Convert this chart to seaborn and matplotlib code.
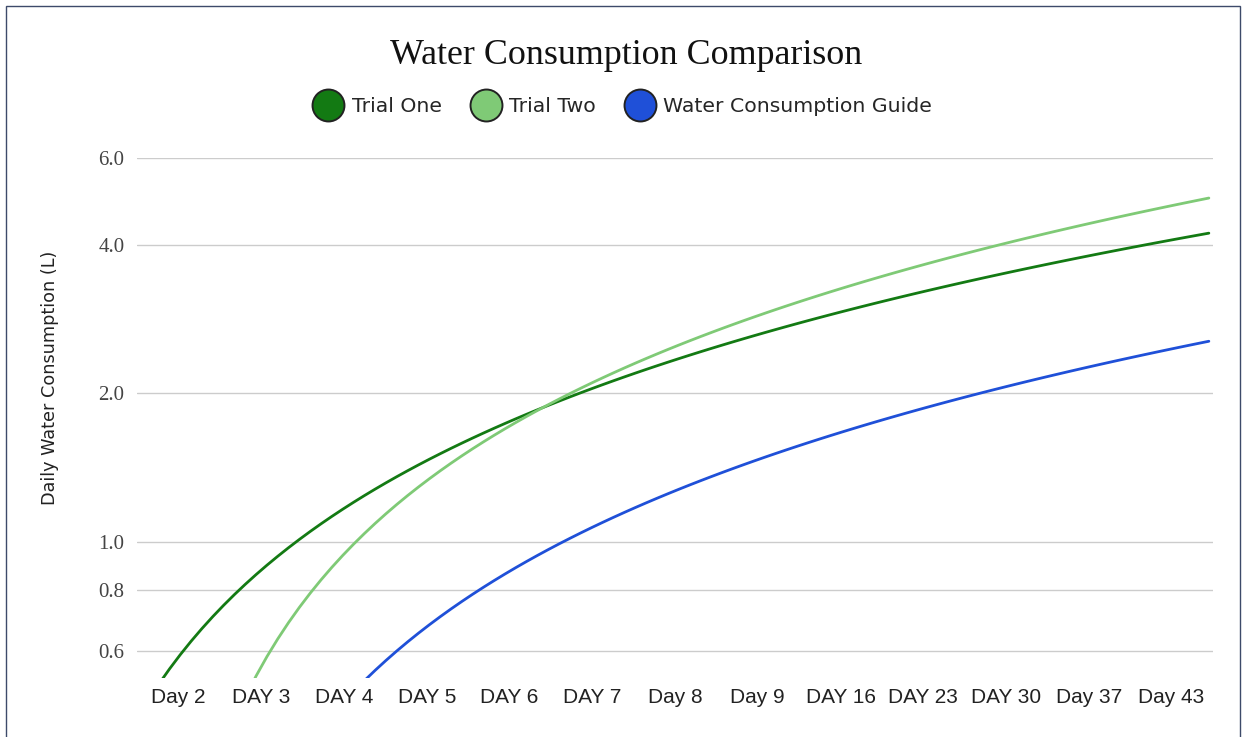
import numpy as np
import pandas as pd
import matplotlib
matplotlib.use("Agg")
import matplotlib.pyplot as plt
from matplotlib.lines import Line2D
from matplotlib.patches import Rectangle
import seaborn as sns

# ---- data ----
days = ["Day 2", "DAY 3", "DAY 4", "DAY 5", "DAY 6", "DAY 7", "Day 8", "Day 9",
        "DAY 16", "DAY 23", "DAY 30", "Day 37", "Day 43"]

series_names = ["Trial One", "Trial Two", "Water Consumption Guide"]

# values per day (NaN = below the visible range of the chart)
trial_one = [0.58, 0.88, 1.17, 1.46, 1.75, 2.05, 2.34, 2.63, 2.92, 3.22, 3.51, 3.80, 4.09]
trial_two = [np.nan, 0.56, 0.94, 1.33, 1.72, 2.10, 2.49, 2.87, 3.26, 3.65, 4.03, 4.42, 4.80]
guide = [np.nan, np.nan, np.nan, 0.67, 0.87, 1.07, 1.27, 1.47, 1.67, 1.87, 2.06, 2.26, 2.46]

y_ticks = [0.6, 0.8, 1.0, 2.0, 4.0, 6.0]
y_tick_labels = ["0.6", "0.8", "1.0", "2.0", "4.0", "6.0"]

colors = ["#137a13", "#7fca76", "#1f50d8"]

# ---- build table ----
df = pd.DataFrame({
    "day_index": np.arange(len(days)),
    "day": days,
    series_names[0]: trial_one,
    series_names[1]: trial_two,
    series_names[2]: guide,
})

sns.set_theme(style="white")
plt.rcParams["font.family"] = ["DejaVu Sans"]

W, H = 1246, 737
fig = plt.figure(figsize=(W / 100, H / 100), dpi=100)
ax = fig.add_axes([137 / W, 1 - 678 / H, (1213 - 137) / W, (678 - 158) / H])

# trendline span (slightly short of the right edge, as in the original)
ax.set_xlim(-0.5, 12.45)
ax.set_yscale("log")
ax.set_ylim(0.5297, 6.0)

# linear trendlines through each series (as in the original chart)
for name, c in zip(series_names, colors):
    sub = df[["day_index", name]].dropna()
    sns.regplot(data=sub, x="day_index", y=name, scatter=False, ci=None,
                truncate=False, color=c, line_kws={"linewidth": 2.0}, ax=ax)

ax.set_xlim(-0.5, 12.5)
ax.set_ylim(0.5297, 6.0)
ax.minorticks_off()
ax.set_yticks(y_ticks)
ax.set_yticklabels(y_tick_labels, fontfamily="Liberation Serif", fontsize=15, color="#444444")
ax.set_xticks(df["day_index"])
ax.set_xticklabels(df["day"], fontfamily="Liberation Sans", fontsize=15, color="#222222")
ax.tick_params(axis="y", length=0, pad=9)
ax.tick_params(axis="x", length=0, pad=7)
ax.yaxis.grid(True, color="#cccccc", linewidth=1.0)
ax.xaxis.grid(False)
for s in ax.spines.values():
    s.set_visible(False)
ax.set_xlabel("")
ax.set_ylabel("")

fig.text(50 / W, 1 - 378 / H, "Daily Water Consumption (L)", rotation=90,
         ha="center", va="center", fontsize=12.7, color="#222222")

fig.text(626 / W, 1 - 55 / H, "Water Consumption Comparison",
         ha="center", va="center", fontsize=25.8, fontfamily="Liberation Serif",
         color="#111111")

handles = [Line2D([], [], linestyle="none", marker="o", markersize=23,
                  markerfacecolor=c, markeredgecolor="#222222", markeredgewidth=1.4)
           for c in colors]
fig.legend(handles, series_names, loc="center", bbox_to_anchor=(622 / W, 1 - 107 / H),
           ncol=3, frameon=False, fontsize=14.7, handletextpad=0.35,
           columnspacing=1.35, handlelength=1.6)

fig.patches.append(Rectangle((6 / W, -0.02), (1240 - 6) / W, 1.02 - 6 / H,
                             transform=fig.transFigure, fill=False,
                             edgecolor="#3d4a6a", linewidth=1.0))

fig.savefig("out.png", dpi=100)
